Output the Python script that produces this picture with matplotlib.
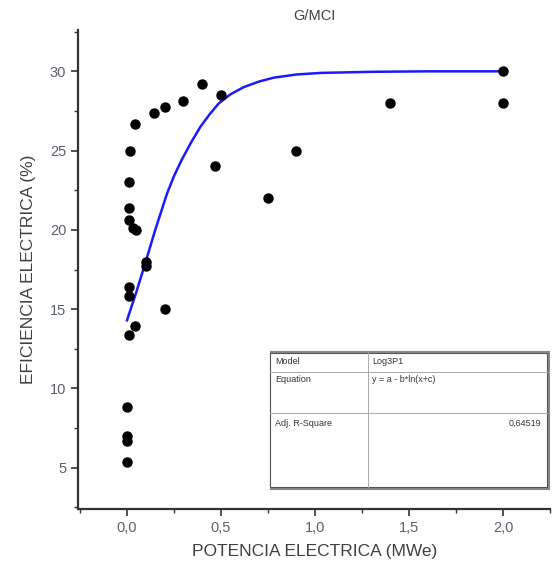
import matplotlib.pyplot as plt
from matplotlib.patches import Rectangle
from matplotlib.ticker import MultipleLocator, FixedLocator

plt.rcParams['font.family'] = ['Liberation Sans', 'DejaVu Sans']

# datos medidos (potencia en MWe, eficiencia en %)
potencia = [0.40, 0.50, 0.30, 0.20, 0.145, 0.04, 0.014, 0.01, 0.01, 0.01, 0.03, 0.05,
            0.47, 0.75, 0.10, 0.10, 0.01, 0.01, 0.20, 0.04, 0.01,
            0.0, 0.0, 0.0, 0.0, 2.0, 2.0, 1.40, 0.90]
eficiencia = [29.2, 28.5, 28.1, 27.75, 27.4, 26.7, 25.0, 23.0, 21.35, 20.6, 20.1, 20.0,
              24.0, 22.0, 18.0, 17.7, 16.4, 15.8, 15.0, 13.95, 13.4,
              8.8, 7.0, 6.7, 5.35, 30.0, 28.0, 28.0, 25.0]

# curva de ajuste Log3P1
curva_x = [0.0, 0.05, 0.097, 0.15, 0.213, 0.25, 0.29, 0.34, 0.39, 0.44, 0.487, 0.55, 0.62,
           0.70, 0.78, 0.9, 1.03, 1.3, 1.6, 2.0]
curva_y = [14.3, 16.1, 17.9, 20.0, 22.3, 23.4, 24.4, 25.5, 26.5, 27.3, 27.97, 28.55, 29.0,
           29.35, 29.6, 29.8, 29.9, 29.97, 30.0, 30.0]

x_ticks = [0.0, 0.5, 1.0, 1.5, 2.0]
x_labels = ['0,0', '0,5', '1,0', '1,5', '2,0']
y_ticks = [5, 10, 15, 20, 25, 30]
y_labels = ['5', '10', '15', '20', '25', '30']

tabla = [('Model', 'Log3P1'), ('Equation', 'y = a - b*ln(x+c)'), ('Adj. R-Square', '0,64519')]

fig = plt.figure(figsize=(5.58, 5.79), dpi=100)
ax = fig.add_axes([0.14, 0.121, 0.846, 0.827])

ax.plot(curva_x, curva_y, color='#1a1aff', lw=1.8, zorder=2)
ax.plot(potencia, eficiencia, 'o', color='black', ms=6.5, zorder=3)

ax.set_xlim(-0.26, 2.25)
ax.set_ylim(2.4, 32.6)
ax.xaxis.set_major_locator(FixedLocator(x_ticks))
ax.set_xticklabels(x_labels)
ax.xaxis.set_minor_locator(MultipleLocator(0.25))
ax.yaxis.set_major_locator(FixedLocator(y_ticks))
ax.set_yticklabels(y_labels)
ax.yaxis.set_minor_locator(MultipleLocator(2.5))

for s in ['top', 'right']:
    ax.spines[s].set_visible(False)
for s in ['left', 'bottom']:
    ax.spines[s].set_linewidth(1.6)
    ax.spines[s].set_color('#333333')
ax.tick_params(which='major', direction='out', length=5, width=1.2, color='#333333',
               labelsize=10.5, labelcolor='#5a6070')
ax.tick_params(which='minor', direction='out', length=3, width=1.0, color='#333333')

ax.set_xlabel('POTENCIA ELECTRICA (MWe)', fontsize=12.5, color='#404040', labelpad=7)
ax.set_ylabel('EFICIENCIA ELECTRICA (%)', fontsize=12.5, color='#404040', labelpad=10)
ax.set_title('G/MCI', fontsize=10.5, color='#404040', pad=7)

# cuadro con los parametros del ajuste (coordenadas de figura en pixeles)
W, H = 558, 579
def fx(px):
    return px / W
def fy(py):
    return 1 - py / H

fig.patches.append(Rectangle((fx(271), fy(488)), fx(548) - fx(271), fy(352) - fy(488),
                             transform=fig.transFigure, fill=False, ec='#888888', lw=2.2))
fig.patches.append(Rectangle((fx(270), fy(487)), fx(547) - fx(270), fy(353) - fy(487),
                             transform=fig.transFigure, fill=True, fc='white', ec='#555555', lw=0.8))
fig.add_artist(plt.Line2D([fx(270), fx(547)], [fy(371.5), fy(371.5)], transform=fig.transFigure,
                          color='#aaaaaa', lw=0.7))
fig.add_artist(plt.Line2D([fx(270), fx(547)], [fy(413), fy(413)], transform=fig.transFigure,
                          color='#aaaaaa', lw=0.7))
fig.add_artist(plt.Line2D([fx(367.5), fx(367.5)], [fy(353), fy(487)], transform=fig.transFigure,
                          color='#aaaaaa', lw=0.7))

fila_y = [361.5, 380, 423]
for (k, v), py in zip(tabla, fila_y):
    fig.text(fx(275), fy(py), k, fontsize=6.5, color='#333333', va='center')
    if k == 'Adj. R-Square':
        fig.text(fx(541), fy(py), v, fontsize=6.5, color='#333333', va='center', ha='right')
    else:
        fig.text(fx(372), fy(py), v, fontsize=6.5, color='#333333', va='center')

plt.savefig('out.png', dpi=100)
